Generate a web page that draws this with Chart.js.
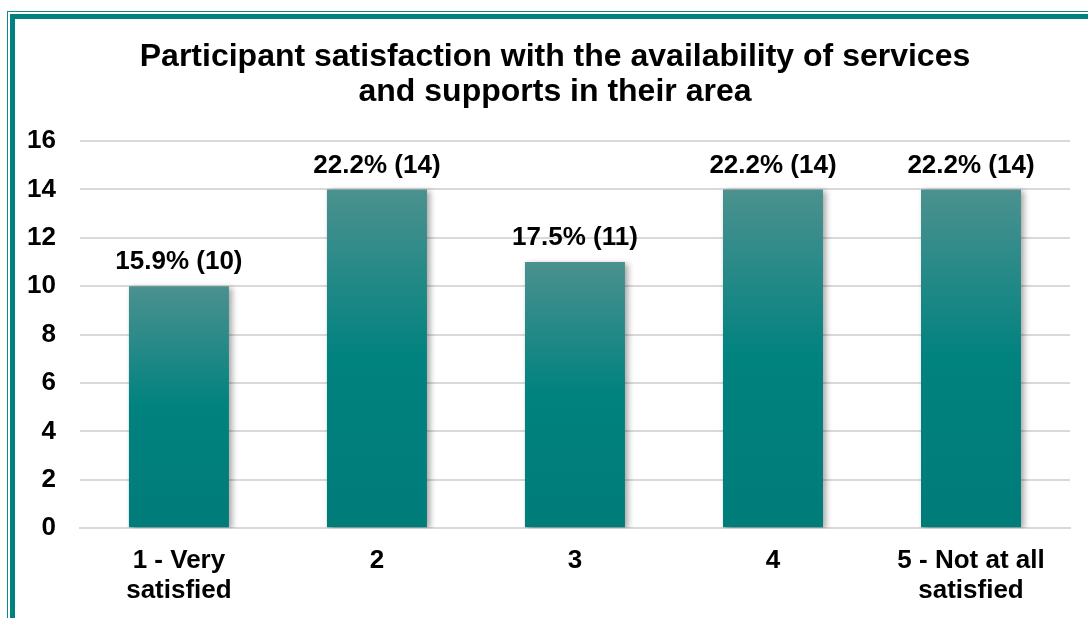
<!DOCTYPE html>
<html lang="en">
<head>
    <meta charset="UTF-8">
    <title>Participant satisfaction</title>
    <script src="https://cdn.jsdelivr.net/npm/chart.js"></script>
    <style>
        html, body {
            margin: 0;
            padding: 0;
            background: #ffffff;
            overflow: hidden;
            width: 1088px;
            height: 618px;
        }
        .frame-thin {
            position: absolute;
            left: 7px;
            top: 11px;
            width: 2000px;
            height: 2000px;
            border: 1px solid #138682;
        }
        .frame-thick {
            position: absolute;
            left: 10px;
            top: 14px;
            width: 2000px;
            height: 2000px;
            border: 5px solid #008080;
        }
        #wrap {
            position: absolute;
            left: 0;
            top: 0;
            width: 1088px;
            height: 624px;
        }
        #title {
            position: absolute;
            left: 255px;
            width: 600px;
            top: 38px;
            margin: 0;
            text-align: center;
            font-family: "Liberation Sans", Arial, sans-serif;
            font-size: 32px;
            font-weight: bold;
            line-height: 35px;
            color: #000000;
            white-space: nowrap;
            display: flex;
            flex-direction: column;
            align-items: center;
        }
    </style>
</head>
<body>
    <div class="frame-thin"></div>
    <div class="frame-thick"></div>
    <div id="wrap"><canvas id="myChart"></canvas></div>
    <h1 id="title"><span>Participant satisfaction with the availability of services</span><span>and supports in their area</span></h1>

    <script>
        const categories = [['1 - Very', 'satisfied'], '2', '3', '4', ['5 - Not at all', 'satisfied']];
        const counts = [10, 14, 11, 14, 14];
        const percents = ['15.9%', '22.2%', '17.5%', '22.2%', '22.2%'];
        const yTicks = [0, 2, 4, 6, 8, 10, 12, 14, 16];

        const FONT = '"Liberation Sans", Arial, sans-serif';

        // gradiente por barra: topo acinzentado, base teal
        function barGradient(context) {
            const chart = context.chart;
            const yScale = chart.scales.y;
            if (!yScale || !context.parsed) return '#008080';
            const top = yScale.getPixelForValue(context.parsed.y);
            const base = yScale.getPixelForValue(0);
            if (!isFinite(top) || !isFinite(base) || top === base) return '#008080';
            const g = chart.ctx.createLinearGradient(0, top, 0, base);
            g.addColorStop(0, '#4b918f');
            g.addColorStop(0.5, '#00827f');
            g.addColorStop(1, '#007c79');
            return g;
        }

        const shadowPlugin = {
            id: 'barShadow',
            beforeDatasetsDraw(chart) {
                const ctx = chart.ctx;
                ctx.save();
                ctx.shadowColor = 'rgba(0, 0, 0, 0.35)';
                ctx.shadowBlur = 6;
                ctx.shadowOffsetX = 3;
                ctx.shadowOffsetY = 2;
            },
            afterDatasetsDraw(chart) {
                chart.ctx.restore();
            }
        };

        const labelPlugin = {
            id: 'barLabels',
            afterDatasetsDraw(chart) {
                const ctx = chart.ctx;
                const meta = chart.getDatasetMeta(0);
                ctx.save();
                ctx.font = 'bold 26px ' + FONT;
                ctx.fillStyle = '#000000';
                ctx.textAlign = 'center';
                ctx.textBaseline = 'middle';
                meta.data.forEach((bar, i) => {
                    ctx.fillText(percents[i] + ' (' + counts[i] + ')', bar.x, bar.y - 24);
                });
                ctx.restore();
            }
        };

        const ctx = document.getElementById('myChart').getContext('2d');
        const myChart = new Chart(ctx, {
            type: 'bar',
            data: {
                labels: categories,
                datasets: [{
                    label: 'Participants',
                    data: counts,
                    backgroundColor: barGradient,
                    borderWidth: 0,
                    barPercentage: 0.505,
                    categoryPercentage: 1.0
                }]
            },
            options: {
                responsive: true,
                maintainAspectRatio: false,
                animation: false,
                layout: {
                    padding: { left: 3, right: 18, top: 141, bottom: 0 }
                },
                plugins: {
                    legend: { display: false },
                    tooltip: { enabled: false },
                    title: { display: false }
                },
                scales: {
                    x: {
                        grid: { display: false, drawTicks: false },
                        border: { display: true, color: '#d9d9d9', width: 2 },
                        ticks: {
                            color: '#000000',
                            padding: 18,
                            maxRotation: 0,
                            autoSkip: false,
                            font: { family: FONT, size: 26, weight: 'bold', lineHeight: 1.15 }
                        }
                    },
                    y: {
                        min: 0,
                        max: 16,
                        afterBuildTicks(axis) {
                            axis.ticks = yTicks.map(v => ({ value: v }));
                        },
                        grid: { color: '#d9d9d9', lineWidth: 2, drawTicks: false },
                        border: { display: false },
                        ticks: {
                            color: '#000000',
                            padding: 24,
                            font: { family: FONT, size: 26, weight: 'bold' }
                        }
                    }
                }
            },
            plugins: [shadowPlugin, labelPlugin]
        });
    </script>
</body>
</html>
